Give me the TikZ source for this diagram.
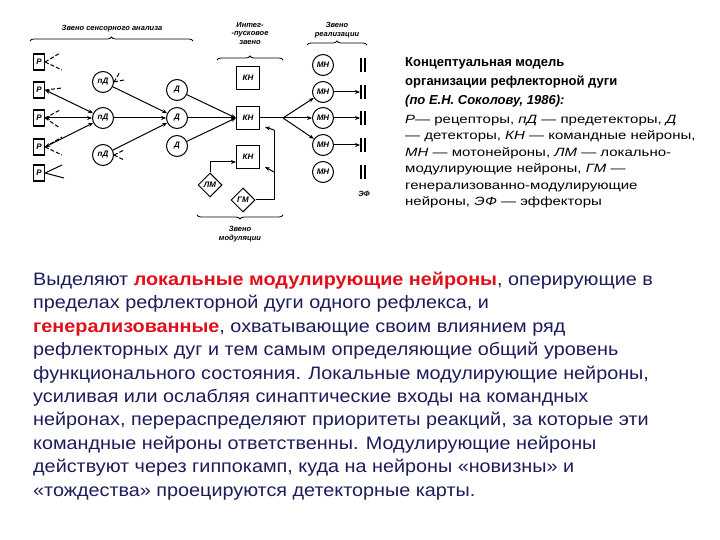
\documentclass[tikz,border=0pt]{standalone}
\usepackage{fontspec}
\setmainfont{Liberation Sans}
\newfontfamily\parfont[FakeStretch=1.1]{Liberation Sans}
\newfontfamily\legfont[FakeStretch=1.25]{Liberation Sans}
\usetikzlibrary{shapes.geometric,arrows.meta,decorations.pathreplacing}
\definecolor{navy}{HTML}{1C1C5A}
\definecolor{hred}{HTML}{E0101A}
\begin{document}
\begin{tikzpicture}[x=1pt,y=-1pt,
  ln/.style={line width=1pt,black},
  arr/.style={ln,-{Stealth[length=5pt,width=4pt]}},
  lab/.style={font=\fontsize{7.5}{7.5}\selectfont\itshape\bfseries,inner sep=0},
  rbox/.style={draw,line width=1.2pt,minimum width=11pt,minimum height=16pt,inner sep=0,font=\fontsize{8}{8}\selectfont\itshape\bfseries},
  neur/.style={draw,line width=1pt,circle,minimum size=21pt,inner sep=0,font=\fontsize{8}{8}\selectfont\itshape\bfseries},
  kbox/.style={draw,line width=1.2pt,minimum size=23pt,inner sep=0,font=\fontsize{8}{8}\selectfont\itshape\bfseries},
  dmd/.style={draw,line width=1pt,diamond,minimum size=24pt,inner sep=0,font=\fontsize{8}{8}\selectfont\itshape\bfseries},
  stim/.style={ln,dashed,dash pattern=on 4pt off 2pt},
  brace/.style={ln,line width=0.8pt,decorate,decoration={brace,amplitude=4pt}}]
\useasboundingbox (0,0) rectangle (720,540);
% receptors
\foreach \i/\y in {1/62,2/90,3/118,4/147,5/173} \node[rbox] (R\i) at (39,\y) {Р};
\foreach \i/\y in {1/82,2/118,3/155} \node[neur] (P\i) at (103,\y) {пД};
\foreach \i/\y in {1/90,2/118,3/146} \node[neur] (D\i) at (177,\y) {Д};
\foreach \i/\y in {1/78,2/118,3/157} \node[kbox] (K\i) at (248,\y) {КН};
\foreach \i/\y in {1/65,2/92,3/118,4/145,5/172} {
  \node[neur] (M\i) at (323,\y) {МН};
  \coordinate (E\i) at (360,\y);
  \draw[ln,line width=1.3pt] (361,\y-7) -- (361,\y+7) (365,\y-7) -- (365,\y+7);}
\node[dmd] (LM) at (210,185) {ЛМ};
\node[dmd] (GM) at (243,200) {ГМ};
% stimuli
\coordinate (s1a) at (60,53); \coordinate (s1b) at (62,70);
\draw[stim] (R1.east) -- (s1a) (R1.east) -- (s1b);
\coordinate (s2) at (62,88); \draw[stim] (R2.east) -- (s2);
\coordinate (s3a) at (60,110); \coordinate (s3b) at (60,128);
\draw[stim] (R3.east) -- (s3a) (R3.east) -- (s3b);
\coordinate (s4a) at (62,137); \coordinate (s4b) at (62,155);
\draw[stim] (R4.east) -- (s4a) (R4.east) -- (s4b);
\coordinate (s5a) at (62,165); \coordinate (s5b) at (64,178);
\draw[ln] (R5.east) -- (s5a) (R5.east) -- (s5b);
\coordinate (p1a) at (120,72); \coordinate (p1b) at (124,80);
\draw[stim] (P1.east) -- (p1a) (P1.east) -- (p1b);
\coordinate (p3a) at (124,150); \coordinate (p3b) at (124,160);
\draw[stim] (P3.east) -- (p3a) (P3.east) -- (p3b);
% connections
\foreach \i in {2,3,4} \draw[ln,{Stealth[length=5pt,width=4pt]}-{Stealth[length=5pt,width=4pt]}] (R\i.east) -- (P2);
\foreach \i in {1,2,3} \draw[arr] (P\i) -- (D2);
\foreach \i in {1,2,3} \draw[arr] (D\i) -- (K2.west);
\coordinate (br) at (283,118);
\draw[ln] (K2.east) -- (br);
\foreach \i in {2,3,4} {\draw[arr] (br) -- (M\i); \draw[arr] (M\i) -- (E\i);}
\coordinate (lmc) at (210,162);
\draw[arr] (LM.north) -- (lmc) -- (K3.west|-lmc);
\coordinate (gmr) at (274,200); \coordinate (gmt) at (274,130);
\draw[ln] (GM.east) -- (gmr) -- (gmt);
\coordinate (k2in) at (265,127); \coordinate (k3in) at (265,167);
\draw[arr] (gmt) -- (k2in); \coordinate (gm3) at (274,172); \draw[arr] (gm3) -- (k3in);
% braces and labels
\draw[brace] (30,41) -- (193,41);
\node[lab] (t1) at (112,29) {Звено сенсорного анализа};
\draw[brace] (217,60) -- (283,60);
\node[lab,align=center] (t2) at (250,33) {Интег-\\[1pt]-пусковое\\[1pt]звено};
\draw[brace] (307,45) -- (367,45);
\node[lab,align=center] (t3) at (337,30) {Звено\\[2pt]реализации};
\draw[brace] (283,215) -- (197,215);
\node[lab,align=center] (t4) at (240,234) {Звено\\[2pt]модуляции};
\node[lab] (ef) at (364,194) {ЭФ};
% right texts
\node[anchor=north west,inner sep=0,align=left,font=\fontsize{13}{19}\selectfont\bfseries] (ti) at (405,57)
 {Концептуальная модель\\организации рефлекторной дуги\\\textit{(по Е.Н. Соколову, 1986):}};
\node[anchor=north west,inner sep=0,align=left,font=\legfont\fontsize{12}{16.5}\selectfont] (leg) at (405,115)
 {\textit{Р}— рецепторы, \textit{пД} — предетекторы, \textit{Д}\\— детекторы, \textit{КН} — командные нейроны,\\\textit{МН} — мотонейроны, \textit{ЛМ} — локально-\\модулирующие нейроны, \textit{ГМ} —\\генерализованно-модулирующие\\нейроны, \textit{ЭФ} — эффекторы};
% paragraph
\node[anchor=north west,inner sep=0,align=left,text=navy,font=\parfont\fontsize{18}{23.4}\selectfont] (par) at (33,272)
 {Выделяют \textcolor{hred}{\textbf{локальные модулирующие нейроны}}, оперирующие в\\
 пределах рефлекторной дуги одного рефлекса, и\\
 \textcolor{hred}{\textbf{генерализованные}}, охватывающие своим влиянием ряд\\
 рефлекторных дуг и тем самым определяющие общий уровень\\
 функционального состояния. Локальные модулирующие нейроны,\\
 усиливая или ослабляя синаптические входы на командных\\
 нейронах, перераспределяют приоритеты реакций, за которые эти\\
 командные нейроны ответственны. Модулирующие нейроны\\
 действуют через гиппокамп, куда на нейроны «новизны» и\\
 «тождества» проецируются детекторные карты.};
\end{tikzpicture}
\end{document}
